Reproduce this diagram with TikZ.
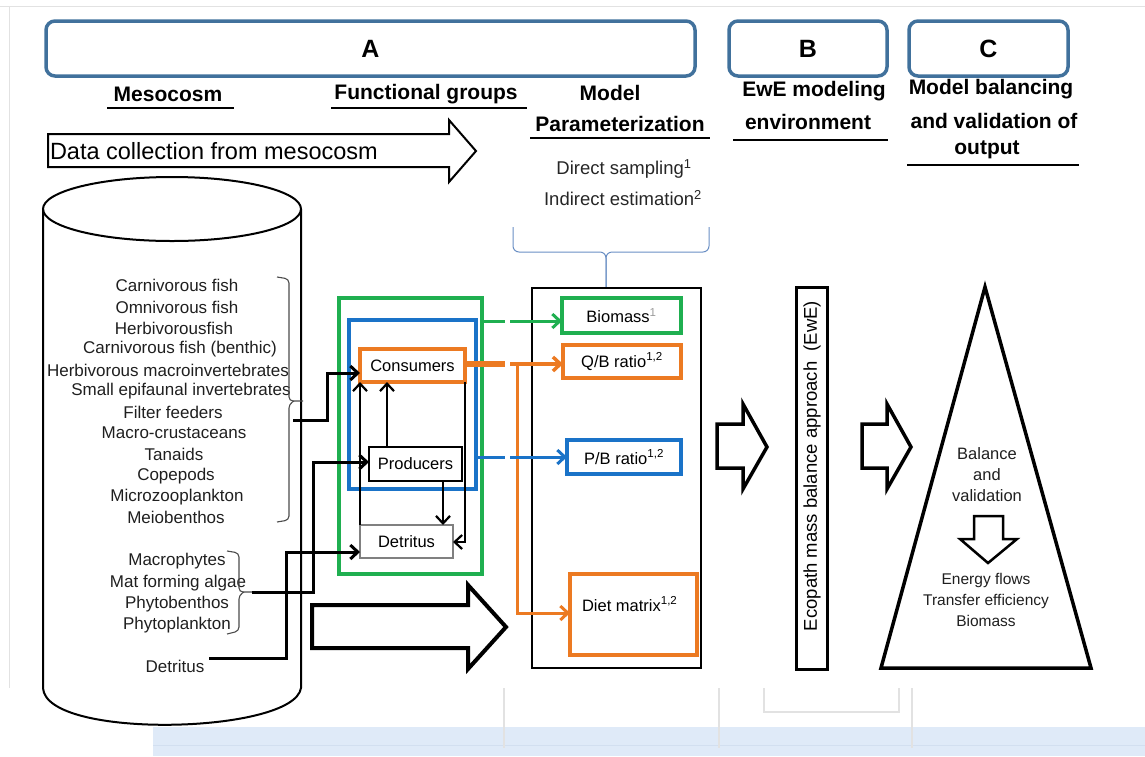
\documentclass[tikz,border=0pt]{standalone}
\usepackage{fontspec}
\setmainfont{Liberation Sans}
\usetikzlibrary{arrows.meta,calc}
\definecolor{stblue}{HTML}{41719C}
\definecolor{ggreen}{HTML}{1FAF50}
\definecolor{bblue}{HTML}{1A73C8}
\definecolor{oorange}{HTML}{EC7A22}
\definecolor{brc}{HTML}{6A8FC4}
\definecolor{band}{HTML}{DFEAF8}
\definecolor{bandline}{HTML}{D2DFF0}
\definecolor{faint}{HTML}{E2E2E2}
\begin{document}
\begin{tikzpicture}[x=1pt,y=-1pt,
  every node/.style={inner sep=0pt,outer sep=0pt},
  topbox/.style={draw=stblue,line width=3.5pt,rounded corners=9pt,font=\fontsize{25}{30}\selectfont\bfseries},
  hd/.style={font=\fontsize{21}{25}\selectfont\bfseries},
  uline/.style={line width=1.4pt},
  lst/.style={font=\fontsize{17}{20}\selectfont,text=black!88},
  smp/.style={font=\fontsize{18.5}{22}\selectfont,text=black!85},
  brk/.style={line width=1.1pt,draw=black!70},
  blk/.style={line width=3pt},
  inn/.style={line width=2.2pt},
  tip/.style={-{Straight Barb[length=7.5pt,width=14pt]}},
  fat/.style={line width=3.5pt,line join=miter,fill=white},
  cbox/.style={draw,line width=3.5pt,font=\fontsize{16.5}{20}\selectfont},
  tri/.style={font=\fontsize{15.5}{21}\selectfont,align=center,text=black!88}
]
\useasboundingbox (0,0) rectangle (1145,756);
% faint screenshot artefacts
\draw[faint,line width=1pt] (0,6) -- (1145,6);
\draw[faint,line width=1pt] (9,6) -- (9,688);
\fill[band] (153,727) rectangle (1145,756);
\draw[bandline,line width=1pt] (153,745) -- (1145,745);
\draw[faint,line width=1.5pt] (504,688) -- (504,748);
\draw[faint,line width=1.5pt] (719,688) -- (719,748);
\draw[faint,line width=1.5pt] (912,688) -- (912,748);
\draw[faint,line width=1.5pt] (764,688) -- (764,712) -- (899,712) -- (899,688);

% top boxes
\node[topbox,minimum width=649pt,minimum height=55pt] (boxA) at (370.5,48.5) {A};
\node[topbox,minimum width=158pt,minimum height=55pt] (boxB) at (808,48.5) {B};
\node[topbox,minimum width=159pt,minimum height=55pt] (boxC) at (988.5,48.5) {C};

% headings
\node[hd] (hMeso) at (168,94) {Mesocosm};
\draw[uline] (107,108) -- (234,108);
\node[hd] (hFun) at (426,94) {Functional groups};
\draw[uline] (331,108) -- (527,108);
\node[hd] (hMod) at (610,93) {Model};
\node[hd] (hPar) at (620,124) {Parameterization};
\draw[uline] (530,138) -- (710,138);
\node[hd] (hEwE) at (814,91) {EwE modeling};
\node[hd] (hEnv) at (808,122) {environment};
\draw[uline] (733,140) -- (888,140);
\node[hd] (hBal1) at (991,89) {Model balancing};
\node[hd] (hBal2) at (994,121) {and validation of};
\node[hd] (hBal3) at (987,150) {output};
\draw[uline] (907,165) -- (1079,165);

\node[smp] (dir) at (624,169) {Direct sampling\textsuperscript{1}};
\node[smp] (ind) at (623,198) {Indirect estimation\textsuperscript{2}};
\draw[brc,line width=1pt,rounded corners=6pt] (513,227) -- (513,252) -- (606,252) -- (606,288);
\draw[brc,line width=1pt,rounded corners=6pt] (709,227) -- (709,252) -- (606,252) -- (606,288);

% data collection arrow
\draw[line width=2pt,fill=white,line join=miter] (48,134) -- (449,134) -- (449,120) -- (476,151) -- (449,182) -- (449,167) -- (48,167) -- cycle;
\node[font=\fontsize{23.5}{28}\selectfont,anchor=west] (dc) at (50,151) {Data collection from mesocosm};

% cylinder
\draw[line width=2pt] (172,209) ellipse [x radius=129, y radius=32];
\draw[line width=2pt] (43,209) -- (43,688) .. controls (46,740) and (294,734) .. (301,688) -- (301,209);

% list
\node[lst] (l1) at (177,285) {Carnivorous fish};
\node[lst] (l2) at (177,307) {Omnivorous fish};
\node[lst] (l3) at (174,328) {Herbivorousfish};
\node[lst] (l4) at (180,349) {Carnivorous fish (benthic)};
\node[lst] (l5) at (168,370) {Herbivorous macroinvertebrates};
\node[lst] (l6) at (181,391) {Small epifaunal invertebrates};
\node[lst] (l7) at (173,412) {Filter feeders};
\node[lst] (l8) at (174,433) {Macro-crustaceans};
\node[lst] (l9) at (174,454) {Tanaids};
\node[lst] (l10) at (176,476) {Copepods};
\node[lst] (l11) at (177,497) {Microzooplankton};
\node[lst] (l12) at (176,517) {Meiobenthos};
\draw[brk,rounded corners=4pt] (277,277) -- (289,279) -- (289,401) -- (303,401);
\draw[brk,rounded corners=4pt] (294,401) -- (289,404) -- (289,520) -- (277,522);

\node[lst] (p1) at (177,561) {Macrophytes};
\node[lst] (p2) at (178,583) {Mat forming algae};
\node[lst] (p3) at (177,604) {Phytobenthos};
\node[lst] (p4) at (177,625) {Phytoplankton};
\node[lst] (d0) at (175,666) {Detritus};
\draw[brk,rounded corners=4pt] (227,551) -- (239,553) -- (239,592) -- (252,592);
\draw[brk,rounded corners=4pt] (244,592) -- (239,595) -- (239,631) -- (227,634);

% functional group boxes
\node[draw=ggreen,line width=3.5pt,minimum width=143pt,minimum height=276pt] (gbox) at (410.5,436) {};
\node[draw=bblue,line width=3.5pt,minimum width=127pt,minimum height=169pt] (bbox) at (412.5,404.5) {};
\node[cbox,draw=oorange,minimum width=105pt,minimum height=33pt,fill=white] (cons) at (412.5,365.5) {Consumers};
\node[cbox,draw=black,line width=1.2pt,minimum width=93pt,minimum height=34pt,fill=white] (prod) at (415.5,464) {Producers};
\node[cbox,draw=black!50,line width=1.4pt,minimum width=93pt,minimum height=33pt,fill=white] (detr) at (406.5,541.5) {Detritus};

% helper coordinates
\coordinate (x360) at (360,0);
\coordinate (x387) at (387,0);
\coordinate (x443) at (443,0);
\coordinate (x465) at (465,0);
\coordinate (b1) at (293,420);
\coordinate (b2) at (252,592);
\coordinate (b3) at (209,658);

% mesocosm -> functional groups
\draw[blk,tip] (b1) -- (327,420) -- (327,373) -- ([yshift=-7.5pt]cons.west);
\draw[blk,tip] (b2) -- (313,592) -- (313,462) -- ([yshift=2pt]prod.west);
\draw[blk,tip] (b3) -- (286,658) -- (286,552) -- ([yshift=-10.5pt]detr.west);

% internal flows
\draw[inn,tip] (prod.north -| x387) -- (cons.south -| x387);
\draw[inn,tip] (detr.north -| x360) -- (cons.south -| x360);
\draw[inn,tip] (prod.south -| x443) -- (detr.north -| x443);
\draw[inn,tip] (cons.south -| x465) -- (465,542) -- ([yshift=-0.5pt]detr.east);

% parameter box
\node[draw,line width=2.6pt,minimum width=169pt,minimum height=380pt] (pbox) at (616.5,478) {};
\node[cbox,draw=ggreen,minimum width=119pt,minimum height=35pt] (bio) at (621.5,315.5) {Biomass\textsuperscript{\textcolor{black!40}{1}}};
\node[cbox,draw=oorange,minimum width=118pt,minimum height=33pt] (qb) at (622,361.5) {Q/B ratio\textsuperscript{1,2}};
\node[cbox,draw=bblue,minimum width=114pt,minimum height=34pt] (pb) at (624,457) {P/B ratio\textsuperscript{1,2}};
\node[cbox,draw=oorange,minimum width=127pt,minimum height=81pt] (diet) at (633.5,614.5) {};
\node[font=\fontsize{16.5}{20}\selectfont,anchor=west] (diett) at (582,604) {Diet matrix\textsuperscript{1,2}};

% coloured connectors
\coordinate (gy) at (0,321);
\coordinate (oy) at (0,364);
\coordinate (by) at (0,457);
\draw[ggreen,line width=3pt] (gbox.east |- gy) -- (505,321);
\draw[ggreen,line width=3pt,tip] (510,321) -- (bio.west |- gy);
\draw[oorange,line width=6pt] (cons.east |- oy) -- (505,364);
\draw[oorange,line width=3.5pt,tip] (510,364) -- (qb.west |- oy);
\draw[oorange,line width=3pt,tip] (517,364) -- (517,613) -- ([yshift=1.5pt]diet.west);
\draw[bblue,line width=3pt] (bbox.east |- by) -- (505,457);
\draw[bblue,line width=3pt,tip] (510,457) -- (pb.west);

% big arrow
\draw[fat,line width=4pt] (312,605) -- (468,605) -- (468,585) -- (506,627) -- (468,669) -- (468,648) -- (312,648) -- cycle;

% B section
\draw[fat] (717,424) -- (743,424) -- (743,404) -- (767,447) -- (743,489) -- (743,468) -- (717,468) -- cycle;
\node[draw,line width=3pt,minimum width=31pt,minimum height=382pt] (bar) at (811.5,478) {};
\node[font=\fontsize{18.5}{22}\selectfont,rotate=90] (eco) at (812,466) {Ecopath mass balance approach\ \ (EwE)};
\draw[fat] (862,424) -- (887,424) -- (887,404) -- (911,447) -- (887,489) -- (887,468) -- (862,468) -- cycle;

% C section
\draw[line width=3.5pt,line join=miter] (985,287) -- (1091,668) -- (881,668) -- cycle;
\node[tri,font=\fontsize{16.5}{21}\selectfont] (bal) at (987,475) {Balance\\and\\validation};
\draw[line width=2.5pt,line join=miter,fill=white] (974,516) -- (1003,516) -- (1003,539) -- (1017,539) -- (988,563) -- (960,539) -- (974,539) -- cycle;
\node[tri] (outp) at (986,600) {Energy flows\\Transfer efficiency\\Biomass};
\end{tikzpicture}
\end{document}
